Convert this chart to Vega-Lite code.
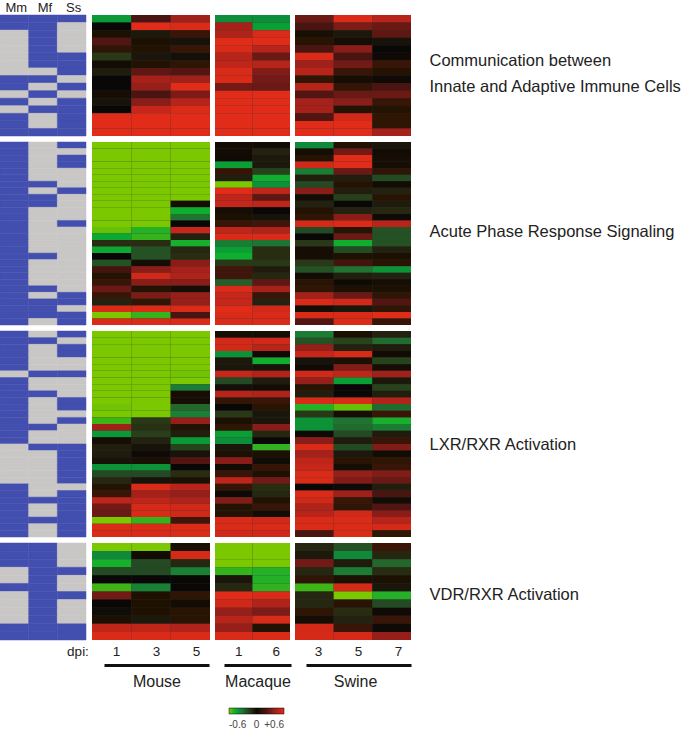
{"$schema":"https://vega.github.io/schema/vega-lite/v6.json","padding":{"left":-1,"top":1,"right":0,"bottom":0},"background":"white","spacing":4,
"config":{"view":{"stroke":null},"font":"Liberation Sans"},
"datasets":{
"p1":[{"r":1,"c":"Mm","v":1},{"r":1,"c":"Mf","v":1},{"r":1,"c":"Ss","v":1},{"r":2,"c":"Mm","v":1},{"r":2,"c":"Mf","v":1},{"r":2,"c":"Ss","v":0},{"r":3,"c":"Mm","v":0},{"r":3,"c":"Mf","v":1},{"r":3,"c":"Ss","v":0},{"r":4,"c":"Mm","v":0},{"r":4,"c":"Mf","v":1},{"r":4,"c":"Ss","v":0},{"r":5,"c":"Mm","v":0},{"r":5,"c":"Mf","v":1},{"r":5,"c":"Ss","v":0},{"r":6,"c":"Mm","v":0},{"r":6,"c":"Mf","v":1},{"r":6,"c":"Ss","v":1},{"r":7,"c":"Mm","v":0},{"r":7,"c":"Mf","v":1},{"r":7,"c":"Ss","v":1},{"r":8,"c":"Mm","v":0},{"r":8,"c":"Mf","v":0},{"r":8,"c":"Ss","v":1},{"r":9,"c":"Mm","v":1},{"r":9,"c":"Mf","v":1},{"r":9,"c":"Ss","v":0},{"r":10,"c":"Mm","v":1},{"r":10,"c":"Mf","v":0},{"r":10,"c":"Ss","v":1},{"r":11,"c":"Mm","v":0},{"r":11,"c":"Mf","v":1},{"r":11,"c":"Ss","v":0},{"r":12,"c":"Mm","v":1},{"r":12,"c":"Mf","v":0},{"r":12,"c":"Ss","v":1},{"r":13,"c":"Mm","v":0},{"r":13,"c":"Mf","v":1},{"r":13,"c":"Ss","v":1},{"r":14,"c":"Mm","v":1},{"r":14,"c":"Mf","v":0},{"r":14,"c":"Ss","v":1},{"r":15,"c":"Mm","v":1},{"r":15,"c":"Mf","v":0},{"r":15,"c":"Ss","v":1},{"r":16,"c":"Mm","v":1},{"r":16,"c":"Mf","v":1},{"r":16,"c":"Ss","v":1}],
"m1":[{"r":1,"c":"1","v":-0.4},{"r":1,"c":"3","v":0.2},{"r":1,"c":"5","v":0.4},{"r":2,"c":"1","v":0},{"r":2,"c":"3","v":0.6},{"r":2,"c":"5","v":0.58},{"r":3,"c":"1","v":0.05},{"r":3,"c":"3","v":-0.05},{"r":3,"c":"5","v":0.15},{"r":4,"c":"1","v":0.22},{"r":4,"c":"3","v":0.05},{"r":4,"c":"5","v":-0.03},{"r":5,"c":"1","v":0.12},{"r":5,"c":"3","v":0.07},{"r":5,"c":"5","v":0.15},{"r":6,"c":"1","v":-0.15},{"r":6,"c":"3","v":-0.04},{"r":6,"c":"5","v":-0.02},{"r":7,"c":"1","v":0.02},{"r":7,"c":"3","v":0.07},{"r":7,"c":"5","v":0.12},{"r":8,"c":"1","v":-0.06},{"r":8,"c":"3","v":0.25},{"r":8,"c":"5","v":0.22},{"r":9,"c":"1","v":0},{"r":9,"c":"3","v":0.42},{"r":9,"c":"5","v":0.4},{"r":10,"c":"1","v":0},{"r":10,"c":"3","v":0.38},{"r":10,"c":"5","v":0.6},{"r":11,"c":"1","v":0.03},{"r":11,"c":"3","v":0.2},{"r":11,"c":"5","v":0.32},{"r":12,"c":"1","v":-0.03},{"r":12,"c":"3","v":0.35},{"r":12,"c":"5","v":0.48},{"r":13,"c":"1","v":0},{"r":13,"c":"3","v":0.52},{"r":13,"c":"5","v":0.58},{"r":14,"c":"1","v":0.6},{"r":14,"c":"3","v":0.6},{"r":14,"c":"5","v":0.6},{"r":15,"c":"1","v":0.6},{"r":15,"c":"3","v":0.6},{"r":15,"c":"5","v":0.6},{"r":16,"c":"1","v":0.6},{"r":16,"c":"3","v":0.6},{"r":16,"c":"5","v":0.6}],
"q1":[{"r":1,"c":"1","v":-0.36},{"r":1,"c":"6","v":-0.36},{"r":2,"c":"1","v":0.42},{"r":2,"c":"6","v":-0.42},{"r":3,"c":"1","v":0.45},{"r":3,"c":"6","v":0.58},{"r":4,"c":"1","v":0.6},{"r":4,"c":"6","v":0.6},{"r":5,"c":"1","v":0.58},{"r":5,"c":"6","v":0.48},{"r":6,"c":"1","v":0.48},{"r":6,"c":"6","v":0.28},{"r":7,"c":"1","v":0.5},{"r":7,"c":"6","v":0.48},{"r":8,"c":"1","v":0.58},{"r":8,"c":"6","v":0.33},{"r":9,"c":"1","v":0.58},{"r":9,"c":"6","v":0.3},{"r":10,"c":"1","v":0.3},{"r":10,"c":"6","v":0.28},{"r":11,"c":"1","v":0.6},{"r":11,"c":"6","v":0.6},{"r":12,"c":"1","v":0.6},{"r":12,"c":"6","v":0.6},{"r":13,"c":"1","v":0.6},{"r":13,"c":"6","v":0.6},{"r":14,"c":"1","v":0.6},{"r":14,"c":"6","v":0.6},{"r":15,"c":"1","v":0.6},{"r":15,"c":"6","v":0.6},{"r":16,"c":"1","v":0.6},{"r":16,"c":"6","v":0.6}],
"s1":[{"r":1,"c":"3","v":0.28},{"r":1,"c":"5","v":0.58},{"r":1,"c":"7","v":0.48},{"r":2,"c":"3","v":0.2},{"r":2,"c":"5","v":0.32},{"r":2,"c":"7","v":0.28},{"r":3,"c":"3","v":0.04},{"r":3,"c":"5","v":-0.05},{"r":3,"c":"7","v":0.25},{"r":4,"c":"3","v":0.1},{"r":4,"c":"5","v":0.03},{"r":4,"c":"7","v":-0.03},{"r":5,"c":"3","v":0.2},{"r":5,"c":"5","v":0.35},{"r":5,"c":"7","v":0},{"r":6,"c":"3","v":0.58},{"r":6,"c":"5","v":0.2},{"r":6,"c":"7","v":0.01},{"r":7,"c":"3","v":0.4},{"r":7,"c":"5","v":0.3},{"r":7,"c":"7","v":0.15},{"r":8,"c":"3","v":0.48},{"r":8,"c":"5","v":0.15},{"r":8,"c":"7","v":0.08},{"r":9,"c":"3","v":0.13},{"r":9,"c":"5","v":0.03},{"r":9,"c":"7","v":0.01},{"r":10,"c":"3","v":0.47},{"r":10,"c":"5","v":0.13},{"r":10,"c":"7","v":0.2},{"r":11,"c":"3","v":0.22},{"r":11,"c":"5","v":0.28},{"r":11,"c":"7","v":0.28},{"r":12,"c":"3","v":0.42},{"r":12,"c":"5","v":0.35},{"r":12,"c":"7","v":0.15},{"r":13,"c":"3","v":0.42},{"r":13,"c":"5","v":0.08},{"r":13,"c":"7","v":0.08},{"r":14,"c":"3","v":0.22},{"r":14,"c":"5","v":0.55},{"r":14,"c":"7","v":0.12},{"r":15,"c":"3","v":0.6},{"r":15,"c":"5","v":0.6},{"r":15,"c":"7","v":0.12},{"r":16,"c":"3","v":0.6},{"r":16,"c":"5","v":0.6},{"r":16,"c":"7","v":0.42}],
"p2":[{"r":1,"c":"Mm","v":1},{"r":1,"c":"Mf","v":0},{"r":1,"c":"Ss","v":1},{"r":2,"c":"Mm","v":1},{"r":2,"c":"Mf","v":0},{"r":2,"c":"Ss","v":0},{"r":3,"c":"Mm","v":1},{"r":3,"c":"Mf","v":0},{"r":3,"c":"Ss","v":1},{"r":4,"c":"Mm","v":1},{"r":4,"c":"Mf","v":0},{"r":4,"c":"Ss","v":1},{"r":5,"c":"Mm","v":1},{"r":5,"c":"Mf","v":0},{"r":5,"c":"Ss","v":0},{"r":6,"c":"Mm","v":1},{"r":6,"c":"Mf","v":0},{"r":6,"c":"Ss","v":0},{"r":7,"c":"Mm","v":1},{"r":7,"c":"Mf","v":1},{"r":7,"c":"Ss","v":0},{"r":8,"c":"Mm","v":1},{"r":8,"c":"Mf","v":0},{"r":8,"c":"Ss","v":1},{"r":9,"c":"Mm","v":1},{"r":9,"c":"Mf","v":1},{"r":9,"c":"Ss","v":0},{"r":10,"c":"Mm","v":1},{"r":10,"c":"Mf","v":1},{"r":10,"c":"Ss","v":0},{"r":11,"c":"Mm","v":1},{"r":11,"c":"Mf","v":0},{"r":11,"c":"Ss","v":0},{"r":12,"c":"Mm","v":1},{"r":12,"c":"Mf","v":0},{"r":12,"c":"Ss","v":0},{"r":13,"c":"Mm","v":1},{"r":13,"c":"Mf","v":0},{"r":13,"c":"Ss","v":1},{"r":14,"c":"Mm","v":1},{"r":14,"c":"Mf","v":0},{"r":14,"c":"Ss","v":0},{"r":15,"c":"Mm","v":1},{"r":15,"c":"Mf","v":0},{"r":15,"c":"Ss","v":0},{"r":16,"c":"Mm","v":1},{"r":16,"c":"Mf","v":0},{"r":16,"c":"Ss","v":0},{"r":17,"c":"Mm","v":1},{"r":17,"c":"Mf","v":0},{"r":17,"c":"Ss","v":0},{"r":18,"c":"Mm","v":1},{"r":18,"c":"Mf","v":1},{"r":18,"c":"Ss","v":0},{"r":19,"c":"Mm","v":1},{"r":19,"c":"Mf","v":0},{"r":19,"c":"Ss","v":0},{"r":20,"c":"Mm","v":1},{"r":20,"c":"Mf","v":0},{"r":20,"c":"Ss","v":0},{"r":21,"c":"Mm","v":1},{"r":21,"c":"Mf","v":0},{"r":21,"c":"Ss","v":0},{"r":22,"c":"Mm","v":1},{"r":22,"c":"Mf","v":0},{"r":22,"c":"Ss","v":0},{"r":23,"c":"Mm","v":1},{"r":23,"c":"Mf","v":1},{"r":23,"c":"Ss","v":0},{"r":24,"c":"Mm","v":1},{"r":24,"c":"Mf","v":0},{"r":24,"c":"Ss","v":1},{"r":25,"c":"Mm","v":1},{"r":25,"c":"Mf","v":1},{"r":25,"c":"Ss","v":1},{"r":26,"c":"Mm","v":1},{"r":26,"c":"Mf","v":1},{"r":26,"c":"Ss","v":0},{"r":27,"c":"Mm","v":1},{"r":27,"c":"Mf","v":1},{"r":27,"c":"Ss","v":1},{"r":28,"c":"Mm","v":1},{"r":28,"c":"Mf","v":0},{"r":28,"c":"Ss","v":1}],
"m2":[{"r":1,"c":"1","v":-0.6},{"r":1,"c":"3","v":-0.6},{"r":1,"c":"5","v":-0.6},{"r":2,"c":"1","v":-0.6},{"r":2,"c":"3","v":-0.6},{"r":2,"c":"5","v":-0.6},{"r":3,"c":"1","v":-0.6},{"r":3,"c":"3","v":-0.6},{"r":3,"c":"5","v":-0.6},{"r":4,"c":"1","v":-0.6},{"r":4,"c":"3","v":-0.6},{"r":4,"c":"5","v":-0.6},{"r":5,"c":"1","v":-0.6},{"r":5,"c":"3","v":-0.6},{"r":5,"c":"5","v":-0.6},{"r":6,"c":"1","v":-0.6},{"r":6,"c":"3","v":-0.6},{"r":6,"c":"5","v":-0.6},{"r":7,"c":"1","v":-0.6},{"r":7,"c":"3","v":-0.6},{"r":7,"c":"5","v":-0.6},{"r":8,"c":"1","v":-0.6},{"r":8,"c":"3","v":-0.6},{"r":8,"c":"5","v":-0.6},{"r":9,"c":"1","v":-0.6},{"r":9,"c":"3","v":-0.6},{"r":9,"c":"5","v":-0.6},{"r":10,"c":"1","v":-0.6},{"r":10,"c":"3","v":-0.6},{"r":10,"c":"5","v":0.03},{"r":11,"c":"1","v":-0.6},{"r":11,"c":"3","v":-0.6},{"r":11,"c":"5","v":-0.47},{"r":12,"c":"1","v":-0.6},{"r":12,"c":"3","v":-0.6},{"r":12,"c":"5","v":-0.3},{"r":13,"c":"1","v":-0.6},{"r":13,"c":"3","v":-0.6},{"r":13,"c":"5","v":0},{"r":14,"c":"1","v":-0.58},{"r":14,"c":"3","v":-0.5},{"r":14,"c":"5","v":0.52},{"r":15,"c":"1","v":-0.45},{"r":15,"c":"3","v":-0.53},{"r":15,"c":"5","v":-0.08},{"r":16,"c":"1","v":-0.12},{"r":16,"c":"3","v":-0.12},{"r":16,"c":"5","v":-0.48},{"r":17,"c":"1","v":-0.45},{"r":17,"c":"3","v":-0.22},{"r":17,"c":"5","v":-0.1},{"r":18,"c":"1","v":0},{"r":18,"c":"3","v":-0.22},{"r":18,"c":"5","v":-0.12},{"r":19,"c":"1","v":-0.22},{"r":19,"c":"3","v":0.03},{"r":19,"c":"5","v":0.35},{"r":20,"c":"1","v":0.18},{"r":20,"c":"3","v":0.35},{"r":20,"c":"5","v":0.42},{"r":21,"c":"1","v":0.08},{"r":21,"c":"3","v":0.55},{"r":21,"c":"5","v":0.45},{"r":22,"c":"1","v":0.15},{"r":22,"c":"3","v":0.35},{"r":22,"c":"5","v":0.35},{"r":23,"c":"1","v":0.28},{"r":23,"c":"3","v":0.08},{"r":23,"c":"5","v":0.03},{"r":24,"c":"1","v":0.15},{"r":24,"c":"3","v":0.32},{"r":24,"c":"5","v":0.38},{"r":25,"c":"1","v":-0.08},{"r":25,"c":"3","v":0.12},{"r":25,"c":"5","v":0.38},{"r":26,"c":"1","v":0.58},{"r":26,"c":"3","v":0.58},{"r":26,"c":"5","v":0.58},{"r":27,"c":"1","v":-0.6},{"r":27,"c":"3","v":-0.53},{"r":27,"c":"5","v":0.2},{"r":28,"c":"1","v":0.58},{"r":28,"c":"3","v":0.58},{"r":28,"c":"5","v":0.58}],
"q2":[{"r":1,"c":"1","v":0.02},{"r":1,"c":"6","v":0.02},{"r":2,"c":"1","v":0.02},{"r":2,"c":"6","v":-0.08},{"r":3,"c":"1","v":0.01},{"r":3,"c":"6","v":-0.05},{"r":4,"c":"1","v":-0.42},{"r":4,"c":"6","v":-0.05},{"r":5,"c":"1","v":0.14},{"r":5,"c":"6","v":-0.18},{"r":6,"c":"1","v":-0.07},{"r":6,"c":"6","v":-0.47},{"r":7,"c":"1","v":-0.6},{"r":7,"c":"6","v":-0.38},{"r":8,"c":"1","v":0.6},{"r":8,"c":"6","v":0.5},{"r":9,"c":"1","v":0.5},{"r":9,"c":"6","v":0.25},{"r":10,"c":"1","v":0.52},{"r":10,"c":"6","v":0.5},{"r":11,"c":"1","v":0.03},{"r":11,"c":"6","v":0},{"r":12,"c":"1","v":0.05},{"r":12,"c":"6","v":-0.03},{"r":13,"c":"1","v":0.15},{"r":13,"c":"6","v":0.17},{"r":14,"c":"1","v":0.5},{"r":14,"c":"6","v":0.45},{"r":15,"c":"1","v":0.58},{"r":15,"c":"6","v":0.58},{"r":16,"c":"1","v":-0.32},{"r":16,"c":"6","v":-0.3},{"r":17,"c":"1","v":-0.42},{"r":17,"c":"6","v":-0.12},{"r":18,"c":"1","v":-0.47},{"r":18,"c":"6","v":-0.12},{"r":19,"c":"1","v":-0.15},{"r":19,"c":"6","v":-0.15},{"r":20,"c":"1","v":0.17},{"r":20,"c":"6","v":-0.06},{"r":21,"c":"1","v":0.17},{"r":21,"c":"6","v":-0.1},{"r":22,"c":"1","v":-0.25},{"r":22,"c":"6","v":0.25},{"r":23,"c":"1","v":0.58},{"r":23,"c":"6","v":0.42},{"r":24,"c":"1","v":0.52},{"r":24,"c":"6","v":0.15},{"r":25,"c":"1","v":0.52},{"r":25,"c":"6","v":-0.08},{"r":26,"c":"1","v":0.6},{"r":26,"c":"6","v":0.55},{"r":27,"c":"1","v":0.58},{"r":27,"c":"6","v":0.58},{"r":28,"c":"1","v":0.58},{"r":28,"c":"6","v":0.58}],
"s2":[{"r":1,"c":"3","v":-0.35},{"r":1,"c":"5","v":0.07},{"r":1,"c":"7","v":-0.04},{"r":2,"c":"3","v":0.03},{"r":2,"c":"5","v":0.3},{"r":2,"c":"7","v":0.02},{"r":3,"c":"3","v":0.08},{"r":3,"c":"5","v":0.6},{"r":3,"c":"7","v":0.03},{"r":4,"c":"3","v":0.55},{"r":4,"c":"5","v":0.6},{"r":4,"c":"7","v":0.03},{"r":5,"c":"3","v":-0.32},{"r":5,"c":"5","v":0.28},{"r":5,"c":"7","v":0.12},{"r":6,"c":"3","v":-0.07},{"r":6,"c":"5","v":-0.07},{"r":6,"c":"7","v":-0.2},{"r":7,"c":"3","v":-0.2},{"r":7,"c":"5","v":0.08},{"r":7,"c":"7","v":0.02},{"r":8,"c":"3","v":0.35},{"r":8,"c":"5","v":-0.07},{"r":8,"c":"7","v":-0.08},{"r":9,"c":"3","v":0.02},{"r":9,"c":"5","v":-0.17},{"r":9,"c":"7","v":0.1},{"r":10,"c":"3","v":-0.08},{"r":10,"c":"5","v":0},{"r":10,"c":"7","v":-0.06},{"r":11,"c":"3","v":0.08},{"r":11,"c":"5","v":-0.08},{"r":11,"c":"7","v":-0.1},{"r":12,"c":"3","v":0.12},{"r":12,"c":"5","v":0.35},{"r":12,"c":"7","v":0.01},{"r":13,"c":"3","v":0.57},{"r":13,"c":"5","v":0.58},{"r":13,"c":"7","v":0.48},{"r":14,"c":"3","v":-0.2},{"r":14,"c":"5","v":0.1},{"r":14,"c":"7","v":-0.22},{"r":15,"c":"3","v":0},{"r":15,"c":"5","v":0.28},{"r":15,"c":"7","v":-0.22},{"r":16,"c":"3","v":-0.15},{"r":16,"c":"5","v":-0.47},{"r":16,"c":"7","v":-0.22},{"r":17,"c":"3","v":0.03},{"r":17,"c":"5","v":-0.2},{"r":17,"c":"7","v":-0.08},{"r":18,"c":"3","v":0.03},{"r":18,"c":"5","v":0.06},{"r":18,"c":"7","v":0.05},{"r":19,"c":"3","v":-0.15},{"r":19,"c":"5","v":0.18},{"r":19,"c":"7","v":0.1},{"r":20,"c":"3","v":-0.22},{"r":20,"c":"5","v":-0.3},{"r":20,"c":"7","v":-0.38},{"r":21,"c":"3","v":0.02},{"r":21,"c":"5","v":-0.07},{"r":21,"c":"7","v":-0.08},{"r":22,"c":"3","v":0.1},{"r":22,"c":"5","v":0.01},{"r":22,"c":"7","v":0.03},{"r":23,"c":"3","v":0.12},{"r":23,"c":"5","v":0.05},{"r":23,"c":"7","v":0.05},{"r":24,"c":"3","v":0.42},{"r":24,"c":"5","v":0.28},{"r":24,"c":"7","v":0.12},{"r":25,"c":"3","v":0.58},{"r":25,"c":"5","v":0.55},{"r":25,"c":"7","v":0.22},{"r":26,"c":"3","v":0.03},{"r":26,"c":"5","v":-0.04},{"r":26,"c":"7","v":0.12},{"r":27,"c":"3","v":0.58},{"r":27,"c":"5","v":0.58},{"r":27,"c":"7","v":0.6},{"r":28,"c":"3","v":0.22},{"r":28,"c":"5","v":0.58},{"r":28,"c":"7","v":0.15}],
"p3":[{"r":1,"c":"Mm","v":1},{"r":1,"c":"Mf","v":0},{"r":1,"c":"Ss","v":1},{"r":2,"c":"Mm","v":1},{"r":2,"c":"Mf","v":1},{"r":2,"c":"Ss","v":0},{"r":3,"c":"Mm","v":1},{"r":3,"c":"Mf","v":0},{"r":3,"c":"Ss","v":1},{"r":4,"c":"Mm","v":1},{"r":4,"c":"Mf","v":0},{"r":4,"c":"Ss","v":1},{"r":5,"c":"Mm","v":1},{"r":5,"c":"Mf","v":0},{"r":5,"c":"Ss","v":0},{"r":6,"c":"Mm","v":1},{"r":6,"c":"Mf","v":0},{"r":6,"c":"Ss","v":0},{"r":7,"c":"Mm","v":0},{"r":7,"c":"Mf","v":1},{"r":7,"c":"Ss","v":1},{"r":8,"c":"Mm","v":1},{"r":8,"c":"Mf","v":0},{"r":8,"c":"Ss","v":0},{"r":9,"c":"Mm","v":1},{"r":9,"c":"Mf","v":0},{"r":9,"c":"Ss","v":0},{"r":10,"c":"Mm","v":1},{"r":10,"c":"Mf","v":1},{"r":10,"c":"Ss","v":0},{"r":11,"c":"Mm","v":1},{"r":11,"c":"Mf","v":0},{"r":11,"c":"Ss","v":1},{"r":12,"c":"Mm","v":1},{"r":12,"c":"Mf","v":0},{"r":12,"c":"Ss","v":1},{"r":13,"c":"Mm","v":1},{"r":13,"c":"Mf","v":0},{"r":13,"c":"Ss","v":0},{"r":14,"c":"Mm","v":1},{"r":14,"c":"Mf","v":0},{"r":14,"c":"Ss","v":1},{"r":15,"c":"Mm","v":1},{"r":15,"c":"Mf","v":1},{"r":15,"c":"Ss","v":0},{"r":16,"c":"Mm","v":1},{"r":16,"c":"Mf","v":0},{"r":16,"c":"Ss","v":0},{"r":17,"c":"Mm","v":1},{"r":17,"c":"Mf","v":0},{"r":17,"c":"Ss","v":0},{"r":18,"c":"Mm","v":0},{"r":18,"c":"Mf","v":1},{"r":18,"c":"Ss","v":1},{"r":19,"c":"Mm","v":0},{"r":19,"c":"Mf","v":0},{"r":19,"c":"Ss","v":1},{"r":20,"c":"Mm","v":0},{"r":20,"c":"Mf","v":0},{"r":20,"c":"Ss","v":1},{"r":21,"c":"Mm","v":0},{"r":21,"c":"Mf","v":0},{"r":21,"c":"Ss","v":1},{"r":22,"c":"Mm","v":0},{"r":22,"c":"Mf","v":0},{"r":22,"c":"Ss","v":1},{"r":23,"c":"Mm","v":0},{"r":23,"c":"Mf","v":0},{"r":23,"c":"Ss","v":1},{"r":24,"c":"Mm","v":1},{"r":24,"c":"Mf","v":0},{"r":24,"c":"Ss","v":0},{"r":25,"c":"Mm","v":1},{"r":25,"c":"Mf","v":0},{"r":25,"c":"Ss","v":1},{"r":26,"c":"Mm","v":1},{"r":26,"c":"Mf","v":1},{"r":26,"c":"Ss","v":1},{"r":27,"c":"Mm","v":1},{"r":27,"c":"Mf","v":0},{"r":27,"c":"Ss","v":1},{"r":28,"c":"Mm","v":1},{"r":28,"c":"Mf","v":0},{"r":28,"c":"Ss","v":1},{"r":29,"c":"Mm","v":1},{"r":29,"c":"Mf","v":1},{"r":29,"c":"Ss","v":1},{"r":30,"c":"Mm","v":1},{"r":30,"c":"Mf","v":0},{"r":30,"c":"Ss","v":1},{"r":31,"c":"Mm","v":1},{"r":31,"c":"Mf","v":0},{"r":31,"c":"Ss","v":1}],
"m3":[{"r":1,"c":"1","v":-0.6},{"r":1,"c":"3","v":-0.6},{"r":1,"c":"5","v":-0.6},{"r":2,"c":"1","v":-0.6},{"r":2,"c":"3","v":-0.6},{"r":2,"c":"5","v":-0.6},{"r":3,"c":"1","v":-0.6},{"r":3,"c":"3","v":-0.6},{"r":3,"c":"5","v":-0.6},{"r":4,"c":"1","v":-0.6},{"r":4,"c":"3","v":-0.6},{"r":4,"c":"5","v":-0.6},{"r":5,"c":"1","v":-0.6},{"r":5,"c":"3","v":-0.6},{"r":5,"c":"5","v":-0.6},{"r":6,"c":"1","v":-0.6},{"r":6,"c":"3","v":-0.6},{"r":6,"c":"5","v":-0.6},{"r":7,"c":"1","v":-0.6},{"r":7,"c":"3","v":-0.6},{"r":7,"c":"5","v":-0.59},{"r":8,"c":"1","v":-0.6},{"r":8,"c":"3","v":-0.6},{"r":8,"c":"5","v":-0.6},{"r":9,"c":"1","v":-0.6},{"r":9,"c":"3","v":-0.6},{"r":9,"c":"5","v":-0.32},{"r":10,"c":"1","v":-0.6},{"r":10,"c":"3","v":-0.6},{"r":10,"c":"5","v":0.03},{"r":11,"c":"1","v":-0.6},{"r":11,"c":"3","v":-0.6},{"r":11,"c":"5","v":0.03},{"r":12,"c":"1","v":-0.59},{"r":12,"c":"3","v":-0.6},{"r":12,"c":"5","v":-0.27},{"r":13,"c":"1","v":-0.6},{"r":13,"c":"3","v":-0.6},{"r":13,"c":"5","v":-0.33},{"r":14,"c":"1","v":-0.55},{"r":14,"c":"3","v":-0.15},{"r":14,"c":"5","v":0.38},{"r":15,"c":"1","v":0.4},{"r":15,"c":"3","v":-0.13},{"r":15,"c":"5","v":0.07},{"r":16,"c":"1","v":-0.4},{"r":16,"c":"3","v":-0.17},{"r":16,"c":"5","v":-0.07},{"r":17,"c":"1","v":0.03},{"r":17,"c":"3","v":-0.08},{"r":17,"c":"5","v":-0.4},{"r":18,"c":"1","v":-0.07},{"r":18,"c":"3","v":-0.03},{"r":18,"c":"5","v":-0.18},{"r":19,"c":"1","v":-0.06},{"r":19,"c":"3","v":0.01},{"r":19,"c":"5","v":-0.03},{"r":20,"c":"1","v":-0.03},{"r":20,"c":"3","v":0.04},{"r":20,"c":"5","v":0.22},{"r":21,"c":"1","v":-0.38},{"r":21,"c":"3","v":-0.38},{"r":21,"c":"5","v":0},{"r":22,"c":"1","v":-0.2},{"r":22,"c":"3","v":-0.2},{"r":22,"c":"5","v":-0.12},{"r":23,"c":"1","v":-0.1},{"r":23,"c":"3","v":-0.03},{"r":23,"c":"5","v":0.05},{"r":24,"c":"1","v":0.08},{"r":24,"c":"3","v":0.58},{"r":24,"c":"5","v":0.48},{"r":25,"c":"1","v":0.15},{"r":25,"c":"3","v":0.42},{"r":25,"c":"5","v":0.38},{"r":26,"c":"1","v":0.5},{"r":26,"c":"3","v":0.5},{"r":26,"c":"5","v":0.45},{"r":27,"c":"1","v":0.3},{"r":27,"c":"3","v":0.57},{"r":27,"c":"5","v":0.55},{"r":28,"c":"1","v":0.28},{"r":28,"c":"3","v":0.58},{"r":28,"c":"5","v":0.55},{"r":29,"c":"1","v":-0.6},{"r":29,"c":"3","v":-0.53},{"r":29,"c":"5","v":0.17},{"r":30,"c":"1","v":0.58},{"r":30,"c":"3","v":0.58},{"r":30,"c":"5","v":0.58},{"r":31,"c":"1","v":0.58},{"r":31,"c":"3","v":0.58},{"r":31,"c":"5","v":0.58}],
"q3":[{"r":1,"c":"1","v":0.03},{"r":1,"c":"6","v":0.03},{"r":2,"c":"1","v":0.56},{"r":2,"c":"6","v":0.55},{"r":3,"c":"1","v":0.56},{"r":3,"c":"6","v":0.48},{"r":4,"c":"1","v":-0.38},{"r":4,"c":"6","v":0.01},{"r":5,"c":"1","v":-0.05},{"r":5,"c":"6","v":-0.47},{"r":6,"c":"1","v":-0.04},{"r":6,"c":"6","v":-0.03},{"r":7,"c":"1","v":0.52},{"r":7,"c":"6","v":0.46},{"r":8,"c":"1","v":-0.2},{"r":8,"c":"6","v":-0.06},{"r":9,"c":"1","v":-0.02},{"r":9,"c":"6","v":0.02},{"r":10,"c":"1","v":0.48},{"r":10,"c":"6","v":0.45},{"r":11,"c":"1","v":0.13},{"r":11,"c":"6","v":0.15},{"r":12,"c":"1","v":0},{"r":12,"c":"6","v":0.1},{"r":13,"c":"1","v":-0.15},{"r":13,"c":"6","v":-0.04},{"r":14,"c":"1","v":0.05},{"r":14,"c":"6","v":-0.04},{"r":15,"c":"1","v":0.12},{"r":15,"c":"6","v":0.35},{"r":16,"c":"1","v":-0.42},{"r":16,"c":"6","v":-0.1},{"r":17,"c":"1","v":-0.36},{"r":17,"c":"6","v":0},{"r":18,"c":"1","v":-0.04},{"r":18,"c":"6","v":-0.52},{"r":19,"c":"1","v":0.05},{"r":19,"c":"6","v":0.05},{"r":20,"c":"1","v":0.35},{"r":20,"c":"6","v":-0.01},{"r":21,"c":"1","v":0.02},{"r":21,"c":"6","v":0.14},{"r":22,"c":"1","v":0.15},{"r":22,"c":"6","v":0.06},{"r":23,"c":"1","v":0.5},{"r":23,"c":"6","v":0.3},{"r":24,"c":"1","v":0.14},{"r":24,"c":"6","v":-0.12},{"r":25,"c":"1","v":0.01},{"r":25,"c":"6","v":-0.1},{"r":26,"c":"1","v":0.33},{"r":26,"c":"6","v":0.07},{"r":27,"c":"1","v":0.08},{"r":27,"c":"6","v":0.15},{"r":28,"c":"1","v":0.08},{"r":28,"c":"6","v":0.02},{"r":29,"c":"1","v":0.58},{"r":29,"c":"6","v":0.55},{"r":30,"c":"1","v":0.58},{"r":30,"c":"6","v":0.58},{"r":31,"c":"1","v":0.55},{"r":31,"c":"6","v":0.55}],
"s3":[{"r":1,"c":"3","v":-0.32},{"r":1,"c":"5","v":0.04},{"r":1,"c":"7","v":-0.08},{"r":2,"c":"3","v":-0.22},{"r":2,"c":"5","v":-0.18},{"r":2,"c":"7","v":-0.28},{"r":3,"c":"3","v":0.38},{"r":3,"c":"5","v":-0.08},{"r":3,"c":"7","v":-0.06},{"r":4,"c":"3","v":0.52},{"r":4,"c":"5","v":0.58},{"r":4,"c":"7","v":0.02},{"r":5,"c":"3","v":-0.03},{"r":5,"c":"5","v":0.05},{"r":5,"c":"7","v":-0.18},{"r":6,"c":"3","v":0.01},{"r":6,"c":"5","v":0.33},{"r":6,"c":"7","v":0.03},{"r":7,"c":"3","v":0.55},{"r":7,"c":"5","v":0.5},{"r":7,"c":"7","v":0.4},{"r":8,"c":"3","v":0.38},{"r":8,"c":"5","v":-0.42},{"r":8,"c":"7","v":-0.05},{"r":9,"c":"3","v":0.1},{"r":9,"c":"5","v":0},{"r":9,"c":"7","v":-0.18},{"r":10,"c":"3","v":-0.07},{"r":10,"c":"5","v":0},{"r":10,"c":"7","v":-0.07},{"r":11,"c":"3","v":0.58},{"r":11,"c":"5","v":0.58},{"r":11,"c":"7","v":0.46},{"r":12,"c":"3","v":-0.5},{"r":12,"c":"5","v":-0.58},{"r":12,"c":"7","v":-0.28},{"r":13,"c":"3","v":-0.15},{"r":13,"c":"5","v":0.03},{"r":13,"c":"7","v":0.16},{"r":14,"c":"3","v":-0.38},{"r":14,"c":"5","v":-0.3},{"r":14,"c":"7","v":-0.48},{"r":15,"c":"3","v":-0.38},{"r":15,"c":"5","v":-0.28},{"r":15,"c":"7","v":-0.32},{"r":16,"c":"3","v":0.01},{"r":16,"c":"5","v":-0.2},{"r":16,"c":"7","v":-0.06},{"r":17,"c":"3","v":0.35},{"r":17,"c":"5","v":-0.06},{"r":17,"c":"7","v":0.15},{"r":18,"c":"3","v":0.58},{"r":18,"c":"5","v":-0.2},{"r":18,"c":"7","v":0.33},{"r":19,"c":"3","v":0.42},{"r":19,"c":"5","v":-0.05},{"r":19,"c":"7","v":0.02},{"r":20,"c":"3","v":0.5},{"r":20,"c":"5","v":0.1},{"r":20,"c":"7","v":0.12},{"r":21,"c":"3","v":0.52},{"r":21,"c":"5","v":0.03},{"r":21,"c":"7","v":0.15},{"r":22,"c":"3","v":0.58},{"r":22,"c":"5","v":0.38},{"r":22,"c":"7","v":0.33},{"r":23,"c":"3","v":0.58},{"r":23,"c":"5","v":0.33},{"r":23,"c":"7","v":0.28},{"r":24,"c":"3","v":0},{"r":24,"c":"5","v":0.01},{"r":24,"c":"7","v":-0.07},{"r":25,"c":"3","v":0.58},{"r":25,"c":"5","v":0.4},{"r":25,"c":"7","v":0.2},{"r":26,"c":"3","v":0.55},{"r":26,"c":"5","v":0.15},{"r":26,"c":"7","v":0.02},{"r":27,"c":"3","v":0.45},{"r":27,"c":"5","v":0.12},{"r":27,"c":"7","v":0.22},{"r":28,"c":"3","v":0.48},{"r":28,"c":"5","v":0.55},{"r":28,"c":"7","v":0.35},{"r":29,"c":"3","v":0.58},{"r":29,"c":"5","v":0.58},{"r":29,"c":"7","v":0.48},{"r":30,"c":"3","v":0.58},{"r":30,"c":"5","v":0.58},{"r":30,"c":"7","v":0.57},{"r":31,"c":"3","v":0.2},{"r":31,"c":"5","v":0.58},{"r":31,"c":"7","v":0.12}],
"p4":[{"r":1,"c":"Mm","v":1},{"r":1,"c":"Mf","v":1},{"r":1,"c":"Ss","v":0},{"r":2,"c":"Mm","v":1},{"r":2,"c":"Mf","v":1},{"r":2,"c":"Ss","v":0},{"r":3,"c":"Mm","v":1},{"r":3,"c":"Mf","v":1},{"r":3,"c":"Ss","v":0},{"r":4,"c":"Mm","v":0},{"r":4,"c":"Mf","v":1},{"r":4,"c":"Ss","v":1},{"r":5,"c":"Mm","v":0},{"r":5,"c":"Mf","v":1},{"r":5,"c":"Ss","v":0},{"r":6,"c":"Mm","v":1},{"r":6,"c":"Mf","v":1},{"r":6,"c":"Ss","v":0},{"r":7,"c":"Mm","v":0},{"r":7,"c":"Mf","v":1},{"r":7,"c":"Ss","v":1},{"r":8,"c":"Mm","v":0},{"r":8,"c":"Mf","v":1},{"r":8,"c":"Ss","v":0},{"r":9,"c":"Mm","v":0},{"r":9,"c":"Mf","v":1},{"r":9,"c":"Ss","v":0},{"r":10,"c":"Mm","v":0},{"r":10,"c":"Mf","v":1},{"r":10,"c":"Ss","v":0},{"r":11,"c":"Mm","v":1},{"r":11,"c":"Mf","v":1},{"r":11,"c":"Ss","v":1},{"r":12,"c":"Mm","v":1},{"r":12,"c":"Mf","v":1},{"r":12,"c":"Ss","v":1}],
"m4":[{"r":1,"c":"1","v":-0.6},{"r":1,"c":"3","v":-0.6},{"r":1,"c":"5","v":0.04},{"r":2,"c":"1","v":-0.35},{"r":2,"c":"3","v":0.02},{"r":2,"c":"5","v":0.57},{"r":3,"c":"1","v":-0.48},{"r":3,"c":"3","v":-0.2},{"r":3,"c":"5","v":-0.1},{"r":4,"c":"1","v":-0.2},{"r":4,"c":"3","v":-0.2},{"r":4,"c":"5","v":-0.33},{"r":5,"c":"1","v":0},{"r":5,"c":"3","v":0},{"r":5,"c":"5","v":0},{"r":6,"c":"1","v":-0.55},{"r":6,"c":"3","v":-0.33},{"r":6,"c":"5","v":0},{"r":7,"c":"1","v":0.3},{"r":7,"c":"3","v":0.06},{"r":7,"c":"5","v":0.12},{"r":8,"c":"1","v":0},{"r":8,"c":"3","v":0.06},{"r":8,"c":"5","v":0.02},{"r":9,"c":"1","v":-0.01},{"r":9,"c":"3","v":0.06},{"r":9,"c":"5","v":0.1},{"r":10,"c":"1","v":0.05},{"r":10,"c":"3","v":-0.05},{"r":10,"c":"5","v":0.1},{"r":11,"c":"1","v":0.5},{"r":11,"c":"3","v":0.5},{"r":11,"c":"5","v":0.45},{"r":12,"c":"1","v":0.58},{"r":12,"c":"3","v":0.58},{"r":12,"c":"5","v":0.58}],
"q4":[{"r":1,"c":"1","v":-0.6},{"r":1,"c":"6","v":-0.6},{"r":2,"c":"1","v":-0.6},{"r":2,"c":"6","v":-0.6},{"r":3,"c":"1","v":-0.6},{"r":3,"c":"6","v":-0.6},{"r":4,"c":"1","v":-0.53},{"r":4,"c":"6","v":-0.5},{"r":5,"c":"1","v":-0.04},{"r":5,"c":"6","v":-0.5},{"r":6,"c":"1","v":-0.1},{"r":6,"c":"6","v":-0.52},{"r":7,"c":"1","v":0.6},{"r":7,"c":"6","v":0.58},{"r":8,"c":"1","v":0.55},{"r":8,"c":"6","v":0.45},{"r":9,"c":"1","v":0.38},{"r":9,"c":"6","v":0.32},{"r":10,"c":"1","v":0.48},{"r":10,"c":"6","v":0.58},{"r":11,"c":"1","v":0.38},{"r":11,"c":"6","v":0.07},{"r":12,"c":"1","v":0.58},{"r":12,"c":"6","v":0.58}],
"s4":[{"r":1,"c":"3","v":-0.1},{"r":1,"c":"5","v":-0.22},{"r":1,"c":"7","v":0.15},{"r":2,"c":"3","v":-0.05},{"r":2,"c":"5","v":-0.35},{"r":2,"c":"7","v":-0.1},{"r":3,"c":"3","v":0.3},{"r":3,"c":"5","v":-0.06},{"r":3,"c":"7","v":-0.27},{"r":4,"c":"3","v":-0.1},{"r":4,"c":"5","v":-0.32},{"r":4,"c":"7","v":-0.12},{"r":5,"c":"3","v":0.12},{"r":5,"c":"5","v":0.05},{"r":5,"c":"7","v":0.05},{"r":6,"c":"3","v":-0.55},{"r":6,"c":"5","v":0.57},{"r":6,"c":"7","v":-0.04},{"r":7,"c":"3","v":-0.1},{"r":7,"c":"5","v":-0.6},{"r":7,"c":"7","v":-0.5},{"r":8,"c":"3","v":-0.1},{"r":8,"c":"5","v":0.1},{"r":8,"c":"7","v":-0.2},{"r":9,"c":"3","v":0.12},{"r":9,"c":"5","v":-0.12},{"r":9,"c":"7","v":0.01},{"r":10,"c":"3","v":0.03},{"r":10,"c":"5","v":-0.08},{"r":10,"c":"7","v":0.15},{"r":11,"c":"3","v":0.56},{"r":11,"c":"5","v":0.15},{"r":11,"c":"7","v":0.01},{"r":12,"c":"3","v":0.57},{"r":12,"c":"5","v":0.57},{"r":12,"c":"7","v":0.38}]
},
"vconcat":[
{"spacing":5,"hconcat":[
{"data":{"name":"p1"},"width":86,"height":121,"mark":{"type":"rect","strokeWidth":0.5},"encoding":{"x":{"field":"c","type":"nominal","sort":["Mm","Mf","Ss"],"axis":{"orient":"top","title":null,"domain":false,"ticks":false,"labelAngle":0,"labelFontSize":13,"labelColor":"#222","labelOffset":2,"labelPadding":1}},"y":{"field":"r","type":"ordinal","axis":null},"color":{"field":"v","type":"nominal","scale":{"domain":[1,0],"range":["#434fae","#c9c6c6"]},"legend":null},"stroke":{"field":"v","type":"nominal","scale":{"domain":[1,0],"range":["#434fae","#c9c6c6"]},"legend":null}}},
{"data":{"name":"m1"},"width":118,"height":121,"view":{"fill":"#333"},"mark":"rect","encoding":{"x":{"field":"c","type":"nominal","axis":null},"y":{"field":"r","type":"ordinal","axis":null},"color":{"field":"v","type":"quantitative","scale":{"domain":[-0.6,-0.55,-0.47,-0.35,-0.2,0,0.2,0.4,0.6],"range":["#7cc800","#3db515","#0fae2f","#0f8a3a","#234a22","#0a0806","#4a1410","#a0201a","#e02c18"]},"legend":null}}},
{"data":{"name":"q1"},"width":75,"height":121,"view":{"fill":"#333"},"mark":"rect","encoding":{"x":{"field":"c","type":"nominal","axis":null},"y":{"field":"r","type":"ordinal","axis":null},"color":{"field":"v","type":"quantitative","scale":{"domain":[-0.6,-0.55,-0.47,-0.35,-0.2,0,0.2,0.4,0.6],"range":["#7cc800","#3db515","#0fae2f","#0f8a3a","#234a22","#0a0806","#4a1410","#a0201a","#e02c18"]},"legend":null}}},
{"data":{"name":"s1"},"width":116,"height":121,"view":{"fill":"#333"},"mark":"rect","encoding":{"x":{"field":"c","type":"nominal","axis":null},"y":{"field":"r","type":"ordinal","axis":{"orient":"right","labels":false,"ticks":false,"domain":false,"title":["Communication between","Innate and Adaptive Immune Cells"],"titleAngle":0,"titleAlign":"left","titleBaseline":"middle","titleFontSize":16.5,"titleFontWeight":"normal","titleColor":"#222","titleLineHeight":26,"titleX":18,"titleY":45}},"color":{"field":"v","type":"quantitative","scale":{"domain":[-0.6,-0.55,-0.47,-0.35,-0.2,0,0.2,0.4,0.6],"range":["#7cc800","#3db515","#0fae2f","#0f8a3a","#234a22","#0a0806","#4a1410","#a0201a","#e02c18"]},"legend":null}}}
]},
{"spacing":5,"hconcat":[
{"data":{"name":"p2"},"width":86,"height":183,"mark":{"type":"rect","strokeWidth":0.5},"encoding":{"x":{"field":"c","type":"nominal","sort":["Mm","Mf","Ss"],"axis":null},"y":{"field":"r","type":"ordinal","axis":null},"color":{"field":"v","type":"nominal","scale":{"domain":[1,0],"range":["#434fae","#c9c6c6"]},"legend":null},"stroke":{"field":"v","type":"nominal","scale":{"domain":[1,0],"range":["#434fae","#c9c6c6"]},"legend":null}}},
{"data":{"name":"m2"},"width":118,"height":183,"view":{"fill":"#333"},"mark":"rect","encoding":{"x":{"field":"c","type":"nominal","axis":null},"y":{"field":"r","type":"ordinal","axis":null},"color":{"field":"v","type":"quantitative","scale":{"domain":[-0.6,-0.55,-0.47,-0.35,-0.2,0,0.2,0.4,0.6],"range":["#7cc800","#3db515","#0fae2f","#0f8a3a","#234a22","#0a0806","#4a1410","#a0201a","#e02c18"]},"legend":null}}},
{"data":{"name":"q2"},"width":75,"height":183,"view":{"fill":"#333"},"mark":"rect","encoding":{"x":{"field":"c","type":"nominal","axis":null},"y":{"field":"r","type":"ordinal","axis":null},"color":{"field":"v","type":"quantitative","scale":{"domain":[-0.6,-0.55,-0.47,-0.35,-0.2,0,0.2,0.4,0.6],"range":["#7cc800","#3db515","#0fae2f","#0f8a3a","#234a22","#0a0806","#4a1410","#a0201a","#e02c18"]},"legend":null}}},
{"data":{"name":"s2"},"width":116,"height":183,"view":{"fill":"#333"},"mark":"rect","encoding":{"x":{"field":"c","type":"nominal","axis":null},"y":{"field":"r","type":"ordinal","axis":{"orient":"right","labels":false,"ticks":false,"domain":false,"title":"Acute Phase Response Signaling","titleAngle":0,"titleAlign":"left","titleBaseline":"middle","titleFontSize":16.5,"titleFontWeight":"normal","titleColor":"#222","titleX":18,"titleY":89}},"color":{"field":"v","type":"quantitative","scale":{"domain":[-0.6,-0.55,-0.47,-0.35,-0.2,0,0.2,0.4,0.6],"range":["#7cc800","#3db515","#0fae2f","#0f8a3a","#234a22","#0a0806","#4a1410","#a0201a","#e02c18"]},"legend":null}}}
]},
{"spacing":5,"hconcat":[
{"data":{"name":"p3"},"width":86,"height":206,"mark":{"type":"rect","strokeWidth":0.5},"encoding":{"x":{"field":"c","type":"nominal","sort":["Mm","Mf","Ss"],"axis":null},"y":{"field":"r","type":"ordinal","axis":null},"color":{"field":"v","type":"nominal","scale":{"domain":[1,0],"range":["#434fae","#c9c6c6"]},"legend":null},"stroke":{"field":"v","type":"nominal","scale":{"domain":[1,0],"range":["#434fae","#c9c6c6"]},"legend":null}}},
{"data":{"name":"m3"},"width":118,"height":206,"view":{"fill":"#333"},"mark":"rect","encoding":{"x":{"field":"c","type":"nominal","axis":null},"y":{"field":"r","type":"ordinal","axis":null},"color":{"field":"v","type":"quantitative","scale":{"domain":[-0.6,-0.55,-0.47,-0.35,-0.2,0,0.2,0.4,0.6],"range":["#7cc800","#3db515","#0fae2f","#0f8a3a","#234a22","#0a0806","#4a1410","#a0201a","#e02c18"]},"legend":null}}},
{"data":{"name":"q3"},"width":75,"height":206,"view":{"fill":"#333"},"mark":"rect","encoding":{"x":{"field":"c","type":"nominal","axis":null},"y":{"field":"r","type":"ordinal","axis":null},"color":{"field":"v","type":"quantitative","scale":{"domain":[-0.6,-0.55,-0.47,-0.35,-0.2,0,0.2,0.4,0.6],"range":["#7cc800","#3db515","#0fae2f","#0f8a3a","#234a22","#0a0806","#4a1410","#a0201a","#e02c18"]},"legend":null}}},
{"data":{"name":"s3"},"width":116,"height":206,"view":{"fill":"#333"},"mark":"rect","encoding":{"x":{"field":"c","type":"nominal","axis":null},"y":{"field":"r","type":"ordinal","axis":{"orient":"right","labels":false,"ticks":false,"domain":false,"title":"LXR/RXR Activation","titleAngle":0,"titleAlign":"left","titleBaseline":"middle","titleFontSize":16.5,"titleFontWeight":"normal","titleColor":"#222","titleX":18,"titleY":113}},"color":{"field":"v","type":"quantitative","scale":{"domain":[-0.6,-0.55,-0.47,-0.35,-0.2,0,0.2,0.4,0.6],"range":["#7cc800","#3db515","#0fae2f","#0f8a3a","#234a22","#0a0806","#4a1410","#a0201a","#e02c18"]},"legend":null}}}
]},
{"spacing":5,"hconcat":[
{"data":{"name":"p4"},"width":86,"height":97,"mark":{"type":"rect","strokeWidth":0.5},"encoding":{"x":{"field":"c","type":"nominal","sort":["Mm","Mf","Ss"],"axis":null},"y":{"field":"r","type":"ordinal","axis":null},"color":{"field":"v","type":"nominal","scale":{"domain":[1,0],"range":["#434fae","#c9c6c6"]},"legend":null},"stroke":{"field":"v","type":"nominal","scale":{"domain":[1,0],"range":["#434fae","#c9c6c6"]},"legend":null}}},
{"data":{"name":"m4"},"width":118,"height":97,"view":{"fill":"#333"},"mark":"rect","encoding":{"x":{"field":"c","type":"nominal","axis":null},"y":{"field":"r","type":"ordinal","axis":null},"color":{"field":"v","type":"quantitative","scale":{"domain":[-0.6,-0.55,-0.47,-0.35,-0.2,0,0.2,0.4,0.6],"range":["#7cc800","#3db515","#0fae2f","#0f8a3a","#234a22","#0a0806","#4a1410","#a0201a","#e02c18"]},"legend":null}}},
{"data":{"name":"q4"},"width":75,"height":97,"view":{"fill":"#333"},"mark":"rect","encoding":{"x":{"field":"c","type":"nominal","axis":null},"y":{"field":"r","type":"ordinal","axis":null},"color":{"field":"v","type":"quantitative","scale":{"domain":[-0.6,-0.55,-0.47,-0.35,-0.2,0,0.2,0.4,0.6],"range":["#7cc800","#3db515","#0fae2f","#0f8a3a","#234a22","#0a0806","#4a1410","#a0201a","#e02c18"]},"legend":null}}},
{"data":{"name":"s4"},"width":116,"height":97,"view":{"fill":"#333"},"mark":"rect","encoding":{"x":{"field":"c","type":"nominal","axis":null},"y":{"field":"r","type":"ordinal","axis":{"orient":"right","labels":false,"ticks":false,"domain":false,"title":"VDR/RXR Activation","titleAngle":0,"titleAlign":"left","titleBaseline":"middle","titleFontSize":16.5,"titleFontWeight":"normal","titleColor":"#222","titleX":18,"titleY":51}},"color":{"field":"v","type":"quantitative","scale":{"domain":[-0.6,-0.55,-0.47,-0.35,-0.2,0,0.2,0.4,0.6],"range":["#7cc800","#3db515","#0fae2f","#0f8a3a","#234a22","#0a0806","#4a1410","#a0201a","#e02c18"]},"legend":null}}}
]},
{"spacing":15,"hconcat":[
{"data":{"values":[{"t":"dpi:"}]},"width":89,"height":20,"mark":{"type":"text","fontSize":13.5,"color":"#222","dx":33.5,"dy":-3},"encoding":{"x":{"field":"t","type":"nominal","axis":null},"text":{"field":"t"}}},
{"data":{"values":[{"d":"1"},{"d":"3"},{"d":"5"}]},"width":105,"height":20,"mark":{"type":"text","fontSize":13.5,"color":"#222","dy":-3},"encoding":{"x":{"field":"d","type":"nominal","scale":{"type":"point","padding":0.31},"axis":{"labels":false,"ticks":false,"domainColor":"#111","domainWidth":3,"title":"Mouse","titleFontSize":16,"titleFontWeight":"normal","titleColor":"#222","titlePadding":8}},"text":{"field":"d"}}},
{"width":67,"height":20,"layer":[
{"data":{"values":[{"d":"1"},{"d":"6"}]},"mark":{"type":"text","fontSize":13.5,"color":"#222","dy":-3},"encoding":{"x":{"field":"d","type":"nominal","scale":{"type":"point","padding":0.39},"axis":{"labels":false,"ticks":false,"domainColor":"#111","domainWidth":3,"title":"Macaque","titleFontSize":16,"titleFontWeight":"normal","titleColor":"#222","titlePadding":8}},"text":{"field":"d"}}},
{"data":{"values":[{"v":-0.6},{"v":0},{"v":0.6}]},"mark":{"type":"rect","opacity":0},"encoding":{"color":{"field":"v","type":"quantitative","scale":{"domain":[-0.6,-0.55,-0.47,-0.35,-0.2,0,0.2,0.4,0.6],"range":["#7cc800","#3db515","#0fae2f","#0f8a3a","#234a22","#0a0806","#4a1410","#a0201a","#e02c18"]},"legend":{"orient":"none","legendX":229,"legendY":693,"direction":"horizontal","title":null,"gradientLength":55,"gradientThickness":6,"values":[-0.6,0,0.6],"labelExpr":"datum.value>0?'+0.6':datum.value<0?'-0.6':'0'","labelFontSize":10,"labelColor":"#444","labelAlign":"center","labelOffset":6,"gradientStrokeColor":"#000","gradientStrokeWidth":0.5}}}}
]},
{"data":{"values":[{"d":"3"},{"d":"5"},{"d":"7"}]},"width":105,"height":20,"mark":{"type":"text","fontSize":13.5,"color":"#222","dy":-3},"encoding":{"x":{"field":"d","type":"nominal","scale":{"type":"point","padding":0.31},"axis":{"labels":false,"ticks":false,"domainColor":"#111","domainWidth":3,"title":"Swine","titleFontSize":16,"titleFontWeight":"normal","titleColor":"#222","titlePadding":8,"titleX":49}},"text":{"field":"d"}}}
]}
]}
